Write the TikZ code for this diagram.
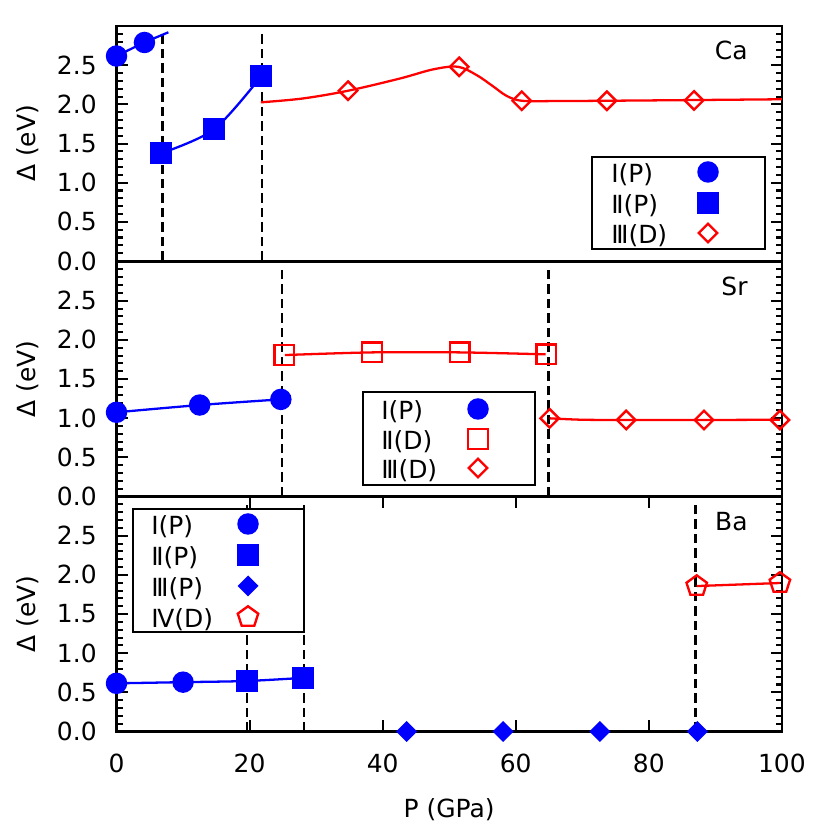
\documentclass[tikz,border=0pt]{standalone}
\usepackage{fontspec}
\setmainfont{DejaVu Sans}
\usetikzlibrary{shapes.geometric}
\begin{document}
\begin{tikzpicture}[x=0.02cm,y=0.02cm,
  font=\fontsize{14.2}{17}\selectfont,
  spine/.style={line width=1.35pt},
  tickmark/.style={line width=1.15pt},
  dataline/.style={line width=1.3pt},
  vdash/.style={line width=1.45pt, dash pattern=on 0.19cm off 0.1cm},
  mk/.style={inner sep=0pt, outer sep=0pt},
  bcirc/.style={mk, circle, fill=blue, minimum size=0.43cm},
  bsq/.style={mk, rectangle, fill=blue, minimum size=0.44cm},
  bdia/.style={mk, diamond, fill=blue, minimum size=0.42cm},
  rdia/.style={mk, diamond, draw=red, line width=1.35pt, minimum size=0.37cm},
  rsq/.style={mk, rectangle, draw=red, line width=1.35pt, minimum size=0.39cm},
  rpent/.style={mk, regular polygon, regular polygon sides=5, draw=red, line width=1.35pt, minimum size=0.43cm},
  legbox/.style={draw=black, fill=white, line width=1.15pt},
  legtxt/.style={anchor=base west, inner sep=0pt},
  ticklab/.style={anchor=east, inner sep=0pt},
  panlab/.style={anchor=base east, inner sep=0pt},
]
\useasboundingbox (0,0) rectangle (830,830);

% ---------- generic frame macro ----------
\newcommand\myframe{%
  \draw[spine] (0,0) rectangle (100,3);
  \foreach \i in {1,...,29}{%
    \pgfmathsetmacro\yy{\i/10}%
    \pgfmathtruncatemacro\ismaj{mod(\i,5)==0 ? 1 : 0}%
    \ifnum\ismaj=1 \def\tl{0.22cm}\else \def\tl{0.12cm}\fi
    \draw[tickmark] (0,\yy) -- ++(\tl,0);
    \draw[tickmark] (100,\yy) -- ++(-\tl,0);
  }
  \foreach \v in {0.0,0.5,1.0,1.5,2.0,2.5}{%
    \node[ticklab, xshift=-0.39cm] at (0,\v) {\v};
  }
  \path (0,1.5) ++(-1.77cm,0) node[rotate=90, inner sep=0pt] {Δ (eV)};
}

% ================= Ca =================
\begin{scope}[shift={(116.5,569)}, x=0.1331cm, y=1.5666cm]
  \myframe
  \node[panlab, xshift=-0.68cm, yshift=-0.67cm] (lca) at (100,3) {Ca};
  \draw[vdash] (6.95,0) -- (6.95,2.9);
  \draw[vdash] (21.9,0) -- (21.9,2.9);
  \draw[dataline, blue] plot[smooth] coordinates {(0,2.617)(4.2,2.79)(7.8,2.92)};
  \draw[dataline, blue] plot[smooth] coordinates {(6.69,1.375)(14.65,1.68)(21.76,2.36)};
  \draw[dataline, red] plot[smooth, tension=0.55] coordinates {(21.7,2.026)(28,2.075)(34.8,2.174)(42.6,2.33)(47.6,2.447)(51.3,2.48)(54.1,2.375)(56.6,2.23)(58.6,2.11)(60.9,2.046)(66,2.042)(73.7,2.046)(86.8,2.055)(100,2.065)};
  \node[bcirc] (ca1) at (0,2.617) {};
  \node[bcirc] (ca2) at (4.2,2.79) {};
  \node[bsq] (ca3) at (6.69,1.375) {};
  \node[bsq] (ca4) at (14.65,1.68) {};
  \node[bsq] (ca5) at (21.76,2.36) {};
  \node[rdia] (ca6) at (34.8,2.174) {};
  \node[rdia] (ca7) at (51.5,2.48) {};
  \node[rdia] (ca8) at (60.9,2.046) {};
  \node[rdia] (ca9) at (73.7,2.046) {};
  \node[rdia] (ca10) at (86.8,2.05) {};
\end{scope}

% ================= Sr =================
\begin{scope}[shift={(116.5,333.5)}, x=0.1331cm, y=1.5666cm]
  \myframe
  \node[panlab, xshift=-0.68cm, yshift=-0.67cm] (lsr) at (100,3) {Sr};
  \draw[vdash] (24.9,0) -- (24.9,2.9);
  \draw[vdash] (64.9,0) -- (64.9,2.9);
  \draw[dataline, blue] plot[smooth] coordinates {(0,1.075)(12.5,1.168)(24.7,1.24)};
  \draw[dataline, red] plot[smooth] coordinates {(25.3,1.806)(38.4,1.84)(51.6,1.84)(64.5,1.815)};
  \draw[dataline, red] plot[smooth] coordinates {(65.1,0.998)(70,0.98)(76.6,0.977)(88.3,0.977)(99.7,0.98)};
  \node[bcirc] (sr1) at (0,1.075) {};
  \node[bcirc] (sr2) at (12.5,1.168) {};
  \node[bcirc] (sr3) at (24.7,1.24) {};
  \node[rsq] (sr4) at (25.2,1.806) {};
  \node[rsq] (sr5) at (38.4,1.84) {};
  \node[rsq] (sr6) at (51.6,1.84) {};
  \node[rsq] (sr7) at (64.6,1.815) {};
  \node[rdia] (sr8) at (65.1,0.998) {};
  \node[rdia] (sr9) at (76.6,0.977) {};
  \node[rdia] (sr10) at (88.3,0.977) {};
  \node[rdia] (sr11) at (99.7,0.977) {};
\end{scope}

% ================= Ba =================
\begin{scope}[shift={(116.5,98.5)}, x=0.1331cm, y=1.5666cm]
  \myframe
  \foreach \p in {20,40,60,80}{%
    \draw[tickmark] (\p,0) -- ++(0,0.22cm);
    \draw[tickmark] (\p,3) -- ++(0,-0.22cm);
  }
  \foreach \p in {0,20,40,60,80,100}{%
    \node[anchor=base, inner sep=0pt, yshift=-0.824cm] at (\p,0) {\p};
  }
  \node[anchor=base, inner sep=0pt, yshift=-1.73cm] (xlab) at (50,0) {P (GPa)};
  \node[panlab, xshift=-0.68cm, yshift=-0.67cm] (lba) at (100,3) {Ba};
  \draw[vdash] (19.6,0) -- (19.6,2.9);
  \draw[vdash] (28.2,0) -- (28.2,2.9);
  \draw[vdash] (87.0,0) -- (87.0,2.9);
  \draw[dataline, blue] plot[smooth] coordinates {(0,0.615)(10,0.63)(19.6,0.645)(28.1,0.685)};
  \draw[dataline, red] (87.2,1.857) -- (99.7,1.896);
  \node[bcirc] (ba1) at (0,0.615) {};
  \node[bcirc] (ba2) at (10,0.63) {};
  \node[bsq] (ba3) at (19.6,0.645) {};
  \node[bsq] (ba4) at (28.1,0.685) {};
  \node[bdia] (ba5) at (43.6,0) {};
  \node[bdia] (ba6) at (58.1,0) {};
  \node[bdia] (ba7) at (72.65,0) {};
  \node[bdia] (ba8) at (87.3,0) {};
  \node[rpent] (ba9) at (87.2,1.857) {};
  \node[rpent] (ba10) at (99.7,1.896) {};
\end{scope}

% ================= legends =================
% Ca
\draw[legbox] (592,673) rectangle (765,581);
\node[legtxt] at (611,647.5) {Ⅰ(P)};
\node[legtxt] at (611,616.8) {Ⅱ(P)};
\node[legtxt] at (611,586.5) {Ⅲ(D)};
\node[bcirc] (lg1) at (708,658) {};
\node[bsq] (lg2) at (708,627.3) {};
\node[rdia] (lg3) at (708,597) {};
% Sr
\draw[legbox] (363,438) rectangle (535,345);
\node[legtxt] at (381,410.5) {Ⅰ(P)};
\node[legtxt] at (381,380.5) {Ⅱ(D)};
\node[legtxt] at (381,351.5) {Ⅲ(D)};
\node[bcirc] (lg4) at (478,421) {};
\node[rsq] (lg5) at (478,391) {};
\node[rdia] (lg6) at (478,362) {};
% Ba
\draw[legbox] (133,321) rectangle (304,198);
\node[legtxt] at (151,295.5) {Ⅰ(P)};
\node[legtxt] at (151,264.5) {Ⅱ(P)};
\node[legtxt] at (151,233.5) {Ⅲ(P)};
\node[legtxt] at (151,202.5) {Ⅳ(D)};
\node[bcirc] (lg7) at (248,306) {};
\node[bsq] (lg8) at (248,275) {};
\node[bdia] (lg9) at (248,244) {};
\node[rpent] (lg10) at (248,213) {};
\end{tikzpicture}
\end{document}
